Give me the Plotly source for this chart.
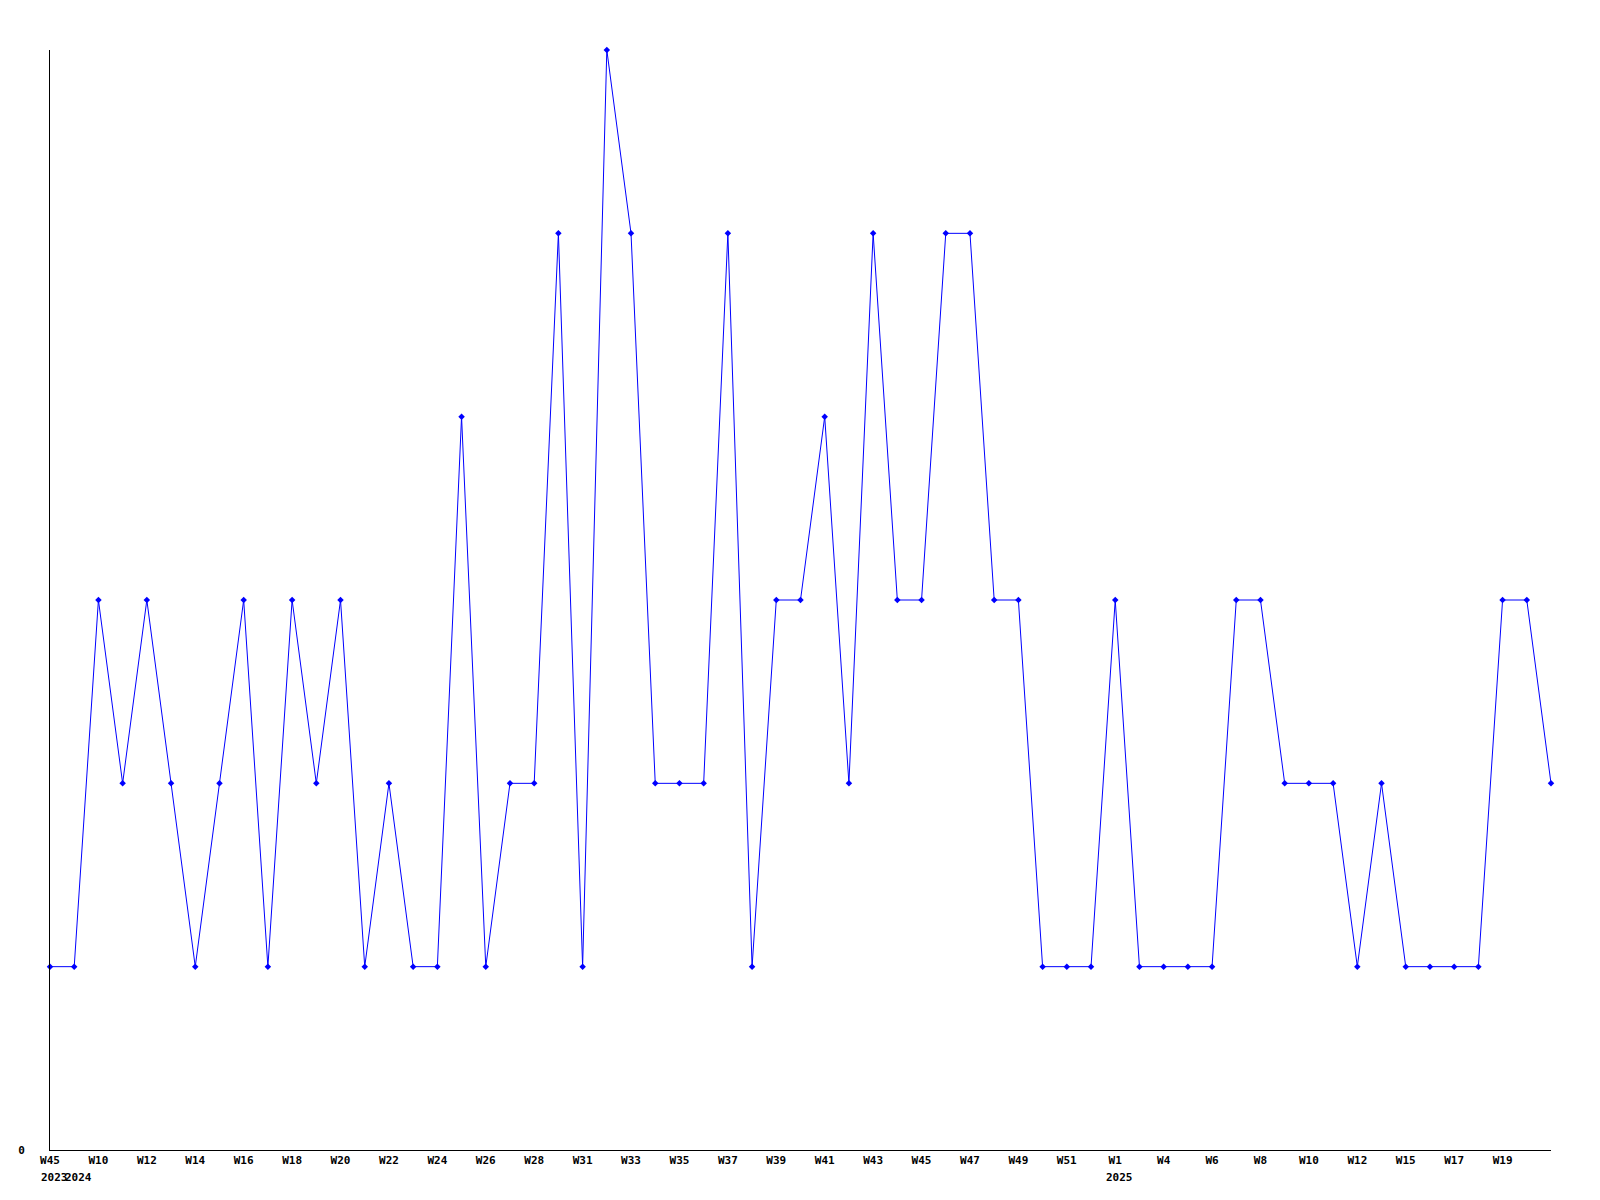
import plotly.graph_objects as go

weeks = ["W45", "W9", "W10", "W11", "W12", "W13", "W14", "W15", "W16", "W17",
         "W18", "W19", "W20", "W21", "W22", "W23", "W24", "W25", "W26", "W27",
         "W28", "W29", "W31", "W32", "W33", "W34", "W35", "W36", "W37", "W38",
         "W39", "W40", "W41", "W42", "W43", "W44", "W45", "W46", "W47", "W48",
         "W49", "W50", "W51", "W52", "W1", "W2", "W4", "W5", "W6", "W7",
         "W8", "W9", "W10", "W11", "W12", "W13", "W15", "W16", "W17", "W18",
         "W19", "W20", "W21"]
years = ["2023"] + ["2024"] * 43 + ["2025"] * 19
values = [1, 1, 3, 2, 3, 2, 1, 2, 3, 1,
          3, 2, 3, 1, 2, 1, 1, 4, 1, 2,
          2, 5, 1, 6, 5, 2, 2, 2, 5, 1,
          3, 3, 4, 2, 5, 3, 3, 5, 5, 3,
          3, 1, 1, 1, 3, 1, 1, 1, 1, 3,
          3, 2, 2, 2, 1, 2, 1, 1, 1, 1,
          3, 3, 2]

idx = list(range(len(values)))
tickvals = idx[:-1:2]
ticktext = [weeks[i] for i in tickvals]

font = dict(family="DejaVu Sans Mono", size=11, color="black", weight="bold")

fig = go.Figure()
fig.add_trace(go.Scatter(
    x=idx, y=values, mode="lines+markers",
    line=dict(color="#0000ff", width=1),
    marker=dict(color="#0000ff", size=5, symbol="diamond"),
    cliponaxis=False, hoverinfo="skip",
))

annotations = []
prev = None
for i, yr in enumerate(years):
    if yr != prev:
        annotations.append(dict(
            x=i, y=0, xref="x", yref="paper", text=yr, showarrow=False,
            xanchor="center", yanchor="top", yshift=-19, xshift=4, font=font,
        ))
        prev = yr

fig.update_layout(
    width=1600, height=1200,
    margin=dict(l=42, r=57, t=42, b=58),
    paper_bgcolor="white", plot_bgcolor="white",
    showlegend=False,
    annotations=annotations,
    xaxis=dict(
        range=[0, len(values) - 1], tickmode="array", tickvals=tickvals,
        ticktext=ticktext, showgrid=False, zeroline=False,
        showline=True, linecolor="black", linewidth=1,
        ticks="", tickfont=font, tickangle=0, automargin=False,
    ),
    yaxis=dict(
        range=[0, 6], tickmode="array", tickvals=[0], ticktext=["0"],
        showgrid=False, zeroline=False, showline=True, linecolor="black",
        linewidth=1, ticks="", tickfont=font, ticklabelstandoff=22,
        automargin=False,
    ),
)

fig.write_html("out.html")
